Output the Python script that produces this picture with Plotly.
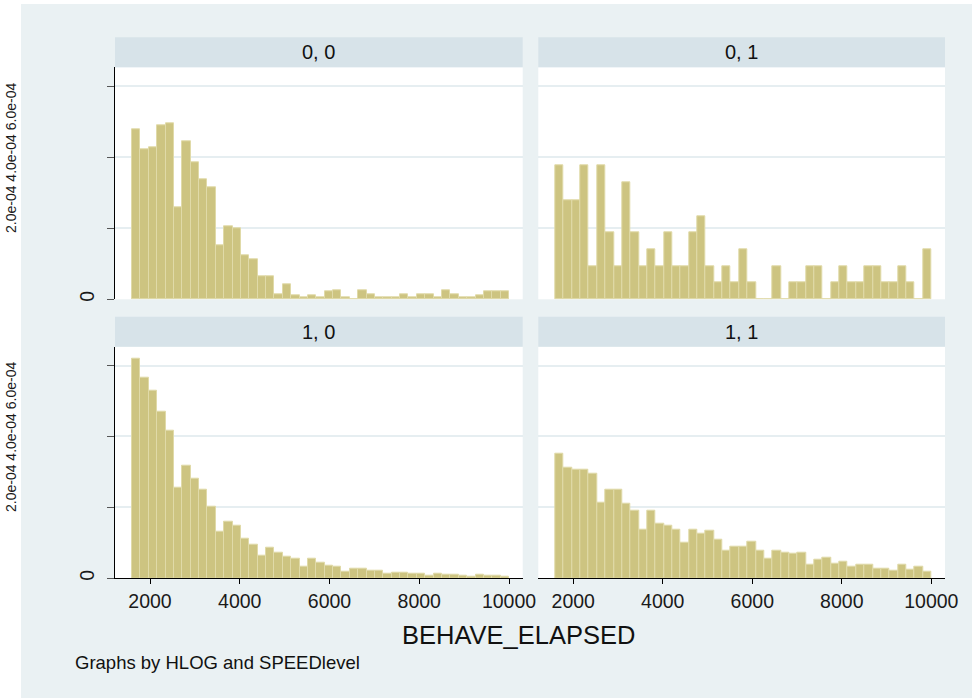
import numpy as np
import plotly.graph_objects as go

# ---------------- data (densities, units of 1e-4) -------------
bin_start = 1600.0
bin_end = 10000.0
n_bins = 45

dens_0_0 = [4.78, 4.23, 4.29, 4.89, 4.94, 2.59, 4.44, 3.86, 3.37, 3.15,
            1.51, 2.05, 2.00, 1.25, 1.14, 0.64, 0.64, 0.15, 0.43, 0.10,
            0.06, 0.10, 0.06, 0.22, 0.26, 0.06, 0.00, 0.26, 0.15, 0.06,
            0.06, 0.06, 0.15, 0.06, 0.15, 0.15, 0.06, 0.26, 0.15, 0.06,
            0.06, 0.10, 0.22, 0.22, 0.22]
dens_0_1 = [3.77, 2.80, 2.80, 3.77, 0.94, 3.77, 1.89, 0.94, 3.29, 1.89,
            0.94, 1.41, 0.94, 1.89, 0.94, 0.94, 1.89, 2.35, 0.94, 0.47,
            0.94, 0.47, 1.41, 0.47, 0.00, 0.00, 0.94, 0.00, 0.47, 0.47,
            0.94, 0.94, 0.00, 0.47, 0.94, 0.47, 0.47, 0.94, 0.94, 0.47,
            0.47, 0.94, 0.47, 0.00, 1.41]
dens_1_0 = [6.19, 5.67, 5.30, 4.70, 4.17, 2.56, 3.18, 2.82, 2.49, 2.03,
            1.30, 1.60, 1.47, 1.13, 0.96, 0.64, 0.87, 0.71, 0.61, 0.56,
            0.33, 0.56, 0.44, 0.36, 0.34, 0.20, 0.28, 0.26, 0.22, 0.22,
            0.14, 0.16, 0.16, 0.13, 0.14, 0.08, 0.14, 0.11, 0.11, 0.08,
            0.04, 0.10, 0.08, 0.08, 0.04]
dens_1_1 = [3.50, 3.12, 3.07, 3.05, 2.96, 2.12, 2.51, 2.51, 2.10, 1.91,
            1.36, 1.91, 1.55, 1.49, 1.36, 0.99, 1.37, 1.25, 1.34, 1.09,
            0.78, 0.89, 0.90, 1.04, 0.78, 0.56, 0.78, 0.71, 0.69, 0.71,
            0.37, 0.52, 0.58, 0.40, 0.46, 0.33, 0.37, 0.39, 0.28, 0.28,
            0.22, 0.39, 0.24, 0.32, 0.20]

panel_titles = ["0, 0", "0, 1", "1, 0", "1, 1"]
x_tickvals = [2000, 4000, 6000, 8000, 10000]
x_ticktext = ["2000", "4000", "6000", "8000", "10000"]
y_tickvals = [0, 2e-4, 4e-4, 6e-4]
y_ticktext = ["0", "", "", ""]
y_hidden_labels = "2.0e-04 4.0e-04 6.0e-04"
x_title = "BEHAVE_ELAPSED"
note = "Graphs by HLOG and SPEEDlevel"

# ---------------- styling / layout ----------------
W, H = 972, 698
FONT = "Liberation Sans, Arial, Helvetica, sans-serif"
BG = "#eaf1f3"
HEADER = "#d7e3e9"
GRID = "#e6eef1"
BAR = "#cdc481"
BAR_LINE = "#e0daa8"

bin_w = (bin_end - bin_start) / n_bins
centers = bin_start + bin_w * (np.arange(n_bins) + 0.5)

def px_x(p):
    return p / W

def px_y(p):
    return 1 - p / H

x_dom = [[px_x(115), px_x(522.7)], [px_x(538.3), px_x(945)]]
y_dom = [[px_y(299.3), px_y(67.3)], [px_y(578.3), px_y(346.7)]]
hdr_y = [[px_y(67.3), px_y(37.3)], [px_y(346.7), px_y(316.7)]]

fig = go.Figure()
series = [dens_0_0, dens_0_1, dens_1_0, dens_1_1]
layout = {}
shapes = []
annotations = []
for i, d in enumerate(series):
    r, c = divmod(i, 2)
    suf = "" if i == 0 else str(i + 1)
    fig.add_trace(go.Bar(
        x=centers, y=np.array(d) * 1e-4, width=bin_w,
        marker=dict(color=BAR, line=dict(color=BAR_LINE, width=1)),
        xaxis="x" + suf, yaxis="y" + suf, showlegend=False,
    ))
    bottom = r == 1
    left = c == 0
    layout["xaxis" + suf] = dict(
        domain=x_dom[c], anchor="y" + suf, range=[1220, 10305],
        showgrid=False, zeroline=False, automargin=False,
        showline=bottom, linecolor="#000000", linewidth=1,
        ticks="outside" if bottom else "", ticklen=5, tickcolor="#000000",
        tickvals=x_tickvals, ticktext=x_ticktext, showticklabels=bottom,
        tickfont=dict(family=FONT, size=19.5, color="#1a1a1a"),
    )
    layout["yaxis" + suf] = dict(
        domain=y_dom[r], anchor="x" + suf, range=[0, 6.53e-4],
        showgrid=True, gridcolor=GRID, gridwidth=1.5, zeroline=False,
        automargin=False,
        showline=left, linecolor="#000000", linewidth=1,
        ticks="outside" if left else "", ticklen=7, tickcolor="#555555",
        tickvals=y_tickvals, ticktext=y_ticktext, showticklabels=left,
        tickangle=-90, ticklabelstandoff=5,
        tickfont=dict(family=FONT, size=19.5, color="#1a1a1a"),
    )
    shapes.append(dict(type="rect", xref="paper", yref="paper",
                       x0=x_dom[c][0], x1=x_dom[c][1],
                       y0=hdr_y[r][0], y1=hdr_y[r][1],
                       fillcolor=HEADER, line=dict(width=0), layer="below"))
    annotations.append(dict(text=panel_titles[i], xref="paper", yref="paper",
                            x=(x_dom[c][0] + x_dom[c][1]) / 2,
                            y=(hdr_y[r][0] + hdr_y[r][1]) / 2,
                            showarrow=False, xanchor="center", yanchor="middle",
                            font=dict(family=FONT, size=20, color="#111111")))
    if left:
        annotations.append(dict(text=y_hidden_labels, xref="paper", yref="paper",
                                x=px_x(21), y=px_y(158 if r == 0 else 437),
                                showarrow=False, xanchor="right", yanchor="middle",
                                textangle=-90,
                                font=dict(family=FONT, size=14, color="#1a1a1a")))

# white strips outside the graph region
shapes.append(dict(type="rect", xref="paper", yref="paper", x0=0, x1=px_x(21),
                   y0=0, y1=1, fillcolor="white", line=dict(width=0), layer="below"))
shapes.append(dict(type="rect", xref="paper", yref="paper", x0=0, x1=1,
                   y0=px_y(4), y1=1, fillcolor="white", line=dict(width=0), layer="below"))

annotations.append(dict(text=x_title, xref="paper", yref="paper",
                        x=px_x(518), y=px_y(635), showarrow=False,
                        xanchor="center", yanchor="middle",
                        font=dict(family=FONT, size=25.5, color="#111111")))
annotations.append(dict(text=note, xref="paper", yref="paper",
                        x=px_x(73), y=px_y(662), showarrow=False,
                        xanchor="left", yanchor="middle",
                        font=dict(family=FONT, size=18.5, color="#111111")))

fig.update_layout(
    width=W, height=H, margin=dict(l=0, r=0, t=0, b=0, autoexpand=False),
    paper_bgcolor=BG, plot_bgcolor="white",
    bargap=0, shapes=shapes, annotations=annotations,
    **layout,
)

fig.write_html("out.html")
